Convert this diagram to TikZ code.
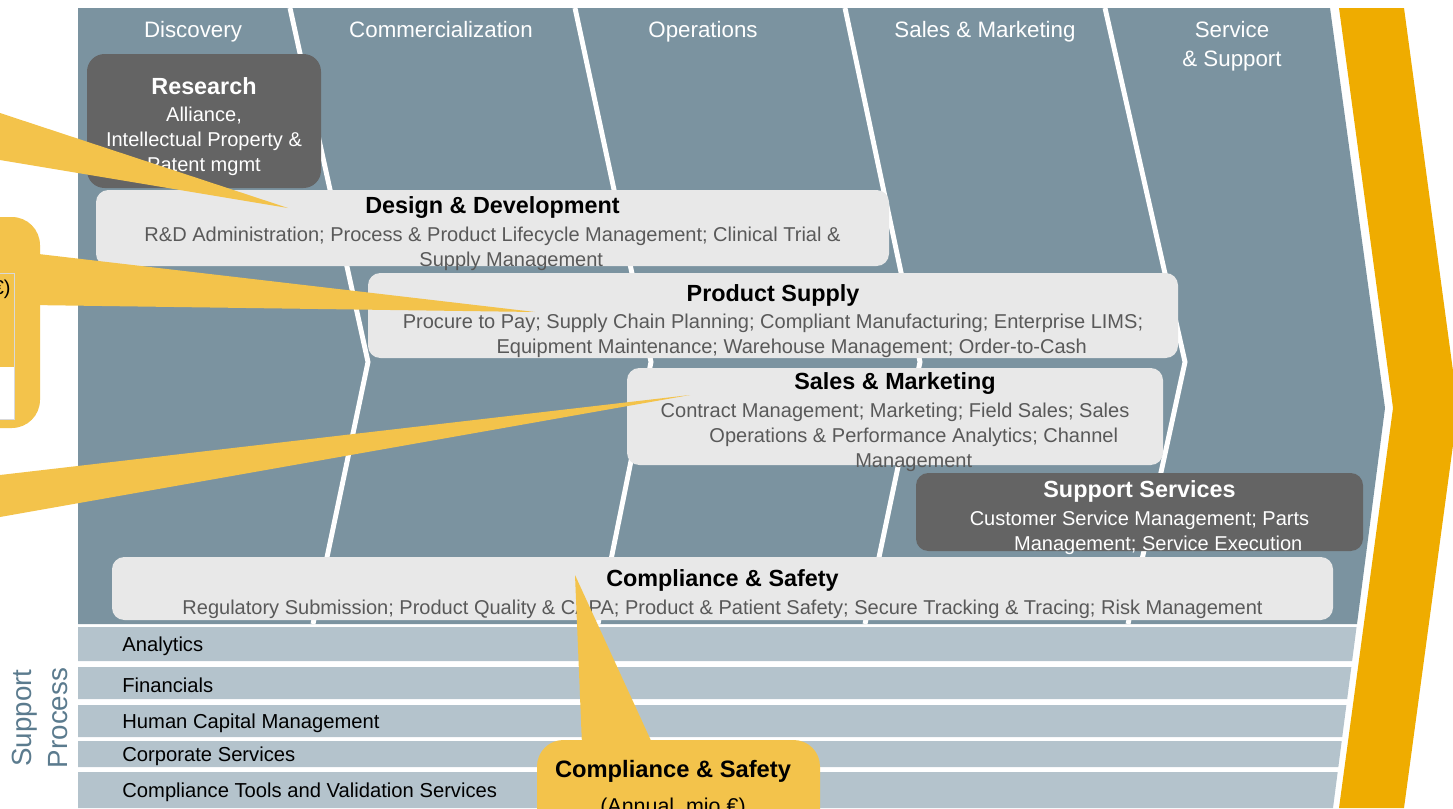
\documentclass[tikz,border=0pt]{standalone}
\usepackage{fontspec}
\setmainfont{Liberation Sans}
\definecolor{lanefill}{HTML}{7B93A0}
\definecolor{rowfill}{HTML}{B4C3CC}
\definecolor{darkcard}{HTML}{646464}
\definecolor{lightcard}{HTML}{E8E8E8}
\definecolor{bodygray}{HTML}{595959}
\definecolor{arroworange}{HTML}{EFAC00}
\definecolor{calloutyellow}{HTML}{F3C34B}
\definecolor{sideblue}{HTML}{5B7B8E}
\newcommand{\pxu}{0.02cm}
\newcommand{\hdrfont}{\fontsize{12.7pt}{16.5pt}\selectfont}
\newcommand{\ttlfont}{\fontsize{13.3pt}{14.2pt}\selectfont\bfseries}
\newcommand{\bodyfont}{\fontsize{11.4pt}{14.2pt}\selectfont}
\newcommand{\rowfont}{\fontsize{11.5pt}{14.2pt}\selectfont}
\newcommand{\cardhead}[2][black]{{\ttlfont\color{#1}\rule{0pt}{16pt}#2}}
\newcommand{\indl}{\hspace*{0.75cm}}
\begin{document}
\begin{tikzpicture}[x=0.02cm, y=-0.02cm,
    lanehead/.style={text=white, font=\hdrfont, align=center, inner sep=0},
    lanesep/.style={draw=white, line width=2.8pt},
    card/.style={rounded corners=7pt, inner xsep=0, inner ysep=-5pt, align=center, font=\bodyfont},
    light/.style={card, fill=lightcard, text=bodygray},
    dark/.style={card, fill=darkcard, text=white},
    rowlabel/.style={anchor=west, font=\rowfont, inner sep=0},
    callout/.style={fill=calloutyellow}]
    \useasboundingbox (0,0) rectangle (1453,808);
    \begin{scope}
        \clip (0,0) rectangle (1453,808);
        \fill[lanefill] (78,8) -- (1330,8) -- (1385,408) -- (1357,624) -- (78,624) -- cycle;
        \foreach \xa/\xb/\xc in {290/368/313, 575/651/598, 845/920/865, 1105/1185/1128}
            \draw[lanesep] (\xa,8) -- (\xb,362) -- (\xc,624);
        \fill[arroworange] (1339,8) -- (1404,8) -- (1458,408) -- (1404,808) -- (1339,808) -- (1393,408) -- cycle;
        \node[lanehead, anchor=base] (Disc) at (193,37) {Discovery};
        \node[lanehead, anchor=base] (Comm) at (441,37) {Commercialization};
        \node[lanehead, anchor=base] (Ops) at (703,37) {Operations};
        \node[lanehead, anchor=base] (SaM) at (985,37) {Sales \& Marketing};
        \node[lanehead] (SaS) at (1232,46) {Service\\\& Support};
        \node[dark, rounded corners=10pt, minimum width=234*\pxu, minimum height=134*\pxu] (Res) at (204,121)
            {\cardhead[white]{Research}\\[1.7pt] Alliance,\\ Intellectual Property \&\\ Patent mgmt};
        \node[light, minimum width=793*\pxu, minimum height=76*\pxu] (DD) at (492.5,228)
            {\cardhead{Design \& Development}\\[1.7pt] R\&D Administration; Process \& Product Lifecycle Management; Clinical Trial \&\\ \indl Supply Management};
        \node[light, minimum width=810*\pxu, minimum height=85*\pxu] (PS) at (773,315.5)
            {\cardhead{Product Supply}\\[1.7pt] Procure to Pay; Supply Chain Planning; Compliant Manufacturing; Enterprise LIMS;\\ \indl Equipment Maintenance; Warehouse Management; Order-to-Cash};
        \node[light, minimum width=536*\pxu, minimum height=97*\pxu] (SM) at (895,416.5)
            {\cardhead{Sales \& Marketing}\\[1.7pt] Contract Management; Marketing; Field Sales; Sales\\ \indl Operations \& Performance Analytics; Channel\\ \indl Management};
        \node[dark, minimum width=447*\pxu, minimum height=78*\pxu] (SS) at (1139.5,512)
            {\cardhead[white]{Support Services}\\[1.7pt] Customer Service Management; Parts\\ \indl Management; Service Execution};
        \node[light, minimum width=1221*\pxu, minimum height=63*\pxu] (CS) at (722.5,588.5)
            {\cardhead{Compliance \& Safety}\\[1.7pt] Regulatory Submission; Product Quality \& CAPA; Product \& Patient Safety; Secure Tracking \& Tracing; Risk Management};
        \foreach \ytop/\ybot/\lbl [count=\i] in {627/661/Analytics, 667/699/Financials, 705/737/Human Capital Management, 741/767/Corporate Services, 772/808/Compliance Tools and Validation Services} {
            \fill[rowfill] (78,\ytop) -- ({1385-0.13*(\ytop-408)},\ytop) -- ({1385-0.13*(\ybot-408)},\ybot) -- (78,\ybot) -- cycle;
            \node[rowlabel] (Row\i) at (122,{(\ytop+\ybot)/2+2}) {\lbl};
        }
        \node[rotate=90, align=center, text=sideblue, font=\fontsize{15.8pt}{20.5pt}\selectfont, inner sep=0] (SP) at (40,718) {Support\\Process};
        \fill[callout] (0,113) -- (288,208) -- (0,160) -- cycle;
        \fill[callout, rounded corners=16pt] (-60,217) rectangle (40,428);
        \filldraw[fill=white, draw=black!15, line width=0.4pt] (-60,273) rectangle (14,419);
        \fill[callout] (-60,273.5) rectangle (13.6,367);
        \node[anchor=east, font=\bodyfont, inner sep=0] (PSnote) at (11,289) {(Annual, mio €)};
        \fill[callout] (30,253) -- (535,312) -- (30,305) -- cycle;
        \fill[callout] (0,475) -- (690,395) -- (0,517) -- cycle;
        \fill[callout] (582,745) -- (575,575) -- (653,745) -- cycle;
        \fill[callout, rounded corners=15pt] (537,740) rectangle (820,900);
        \node[align=center, font=\fontsize{12.2pt}{20.5pt}\selectfont, inner sep=0] (CSnote) at (673,789)
            {{\fontsize{13.5pt}{20.5pt}\selectfont\bfseries Compliance \& Safety}\\ (Annual, mio €)};
    \end{scope}
\end{tikzpicture}
\end{document}
